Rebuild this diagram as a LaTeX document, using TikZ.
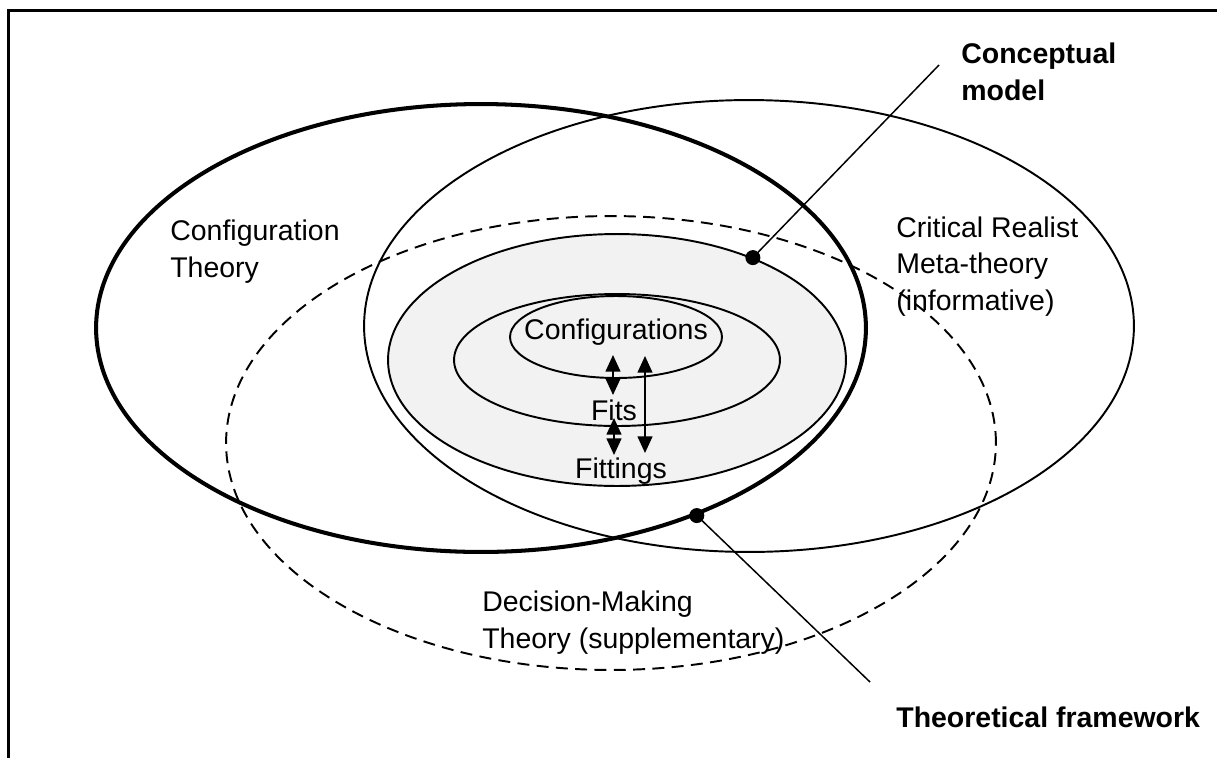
\documentclass[tikz,border=0pt]{standalone}
\usepackage{fontspec}
\setmainfont{Liberation Sans}
\usetikzlibrary{shapes.geometric,arrows.meta}

\begin{document}
\begin{tikzpicture}[x=0.02cm,y=-0.02cm,
  lbl/.style={font=\fontsize{16.2}{20.5}\selectfont, align=left, inner sep=0pt},
  blbl/.style={font=\fontsize{16.2}{21}\selectfont\bfseries, align=left, inner sep=0pt},
  ring/.style={ellipse, draw, line width=1.1pt, inner sep=0pt},
  bigring/.style={ring, minimum width=15.4cm},
  dotmark/.style={circle, fill, inner sep=0pt, minimum size=0.3cm},
  leader/.style={line width=0.85pt},
  dblarrow/.style={{Triangle[width=8.5pt,length=9.5pt]}-{Triangle[width=8.5pt,length=9.5pt]}, line width=0.9pt},
]
\useasboundingbox (0,0) rectangle (1217,758);

% frame (top and left edges)
\draw[line width=1.7pt] (8.5,758) -- (8.5,10.5) -- (1217,10.5);

% the three overlapping theories
\node[bigring, line width=2.3pt, minimum height=8.96cm] (config) at (481,328) {};
\node[bigring, minimum height=9.04cm] (critical) at (749,326) {};
\node[bigring, dashed, dash pattern=on 6.8pt off 4.2pt, minimum height=9.08cm] (decision) at (611,443) {};

% nested conceptual model
\node[ring, fill=gray!10, minimum width=9.16cm, minimum height=5.04cm] (model) at (617,360) {};
\node[ring, minimum width=6.52cm, minimum height=2.64cm] (fits) at (617,360) {};
\node[ring, minimum width=4.24cm, minimum height=1.64cm] (configs) at (616,337) {};

% inner labels
\node[lbl, anchor=base] (tconfigs) at (616,339) {Configurations};
\node[lbl, anchor=base] (tfits) at (614,420) {Fits};
\node[lbl, anchor=base] (tfittings) at (621,478) {Fittings};

% arrows between levels
\coordinate (a1t) at (613,355);
\coordinate (a1b) at (613,395);
\coordinate (a2t) at (614,418);
\coordinate (a2b) at (614,455);
\coordinate (a3t) at (645,356);
\coordinate (a3b) at (645,453);
\draw[dblarrow] (a1t) -- (a1b);
\draw[dblarrow] (a2t) -- (a2b);
\draw[dblarrow] (a3t) -- (a3b);

% theory labels (anchored on the baseline of the last line)
\node[lbl, anchor=base west] (tconfig) at (170,277) {Configuration\\Theory};
\node[lbl, anchor=base west] (tcritical) at (896,310) {Critical Realist\\Meta-theory\\(informative)};
\node[lbl, anchor=base west] (tdecision) at (482,648) {Decision-Making\\Theory (supplementary)};

% callouts
\node[dotmark] (cdot) at (model.37) {};
\coordinate (cend) at (939,65);
\draw[leader] (cdot.center) -- (cend);
\node[blbl, anchor=base west] (tcm) at (961,100) {Conceptual\\model};

\node[dotmark] (fdot) at (config.-41) {};
\coordinate (fend) at (870,682);
\draw[leader] (fdot.center) -- (fend);
\node[blbl, anchor=base west] (ttf) at (896,727) {Theoretical framework};
\end{tikzpicture}
\end{document}
